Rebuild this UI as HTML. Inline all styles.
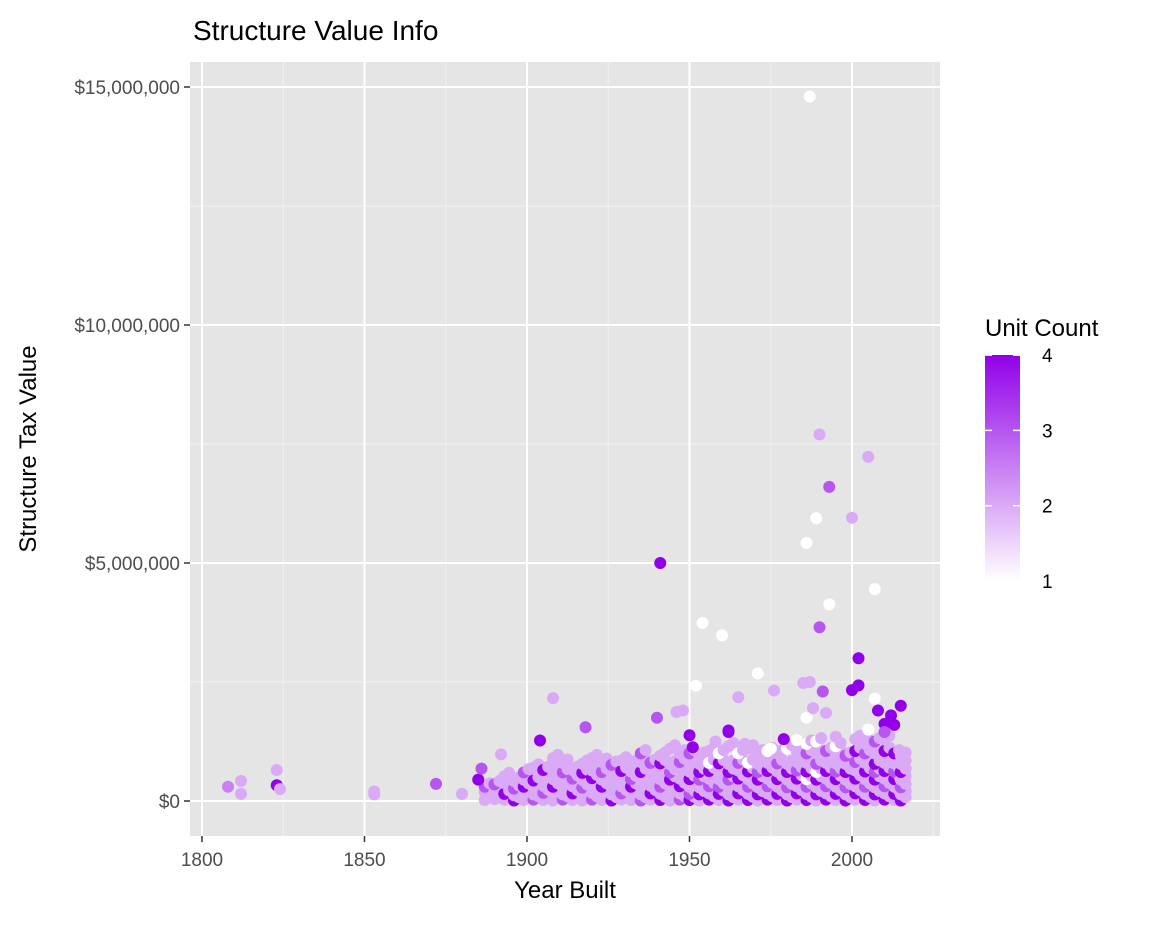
<!DOCTYPE html>
<html><head><meta charset="utf-8">
<style>
body{margin:0;background:#fff;font-family:"Liberation Sans",sans-serif;}
</style></head>
<body>
<svg id="chart" width="1152" height="921" xmlns="http://www.w3.org/2000/svg" font-family="Liberation Sans, sans-serif">
<defs><linearGradient id="cbar" x1="0" y1="1" x2="0" y2="0"><stop offset="0" stop-color="#ffffff"/><stop offset="1" stop-color="#9100e8"/></linearGradient></defs>
<text x="193" y="40" font-size="28" fill="#000">Structure Value Info</text>
<rect x="190" y="62" width="750" height="774" fill="#e5e5e5"/>
<g id="grid"></g>
<g id="points"></g>
<g id="axes"></g>
<text x="565" y="898" font-size="24" text-anchor="middle">Year Built</text>
<text transform="translate(36,449) rotate(-90)" font-size="24" text-anchor="middle">Structure Tax Value</text>
<g>
<text x="985" y="336" font-size="24">Unit Count</text>
<rect x="985" y="355" width="35" height="226" fill="url(#cbar)"/>
<g id="legendticks"></g>
</g>
</svg>
<script>
const xTicks=[1800,1850,1900,1950,2000];
const yTicks=[0,5000,10000,15000];
const yTickLabels=["$0","$5,000,000","$10,000,000","$15,000,000"];
const legendTicks=[1,2,3,4];
const outYears=[1808,1812,1812,1823,1823,1824,1853,1853,1872,1880,1885,1886,1892,1904,1908,1918,1941,1940,1946,1948,1952,1954,1960,1965,1971,1976,1985,1987,1987,1986,1989,1990,1990,1991,1993,1993,2000,2000,2002,2002,2005,2007,2007,2008,2010,2012,2013,2015,1950,1951,1962,1962,1986,1988,1992,2005,2010,1967,1975,1958,1979,1995,1983];
const outVals=[300,420,150,650,330,250,200,140,360,150,450,680,980,1270,2160,1550,5000,1750,1870,1900,2420,3740,3480,2180,2680,2320,2480,14800,2500,5420,5940,7700,3650,2300,4130,6600,5950,2330,2430,3000,7230,4450,2150,1900,1620,1800,1600,2000,1380,1130,1450,1480,1750,1950,1850,1500,1450,1200,1100,1250,1300,1350,1280];
const outUnits=[2.5,2,2,2,4,2,2,2,3,2,4,3,2,4,2,3,4,3,2,2,1,1,1,2,1,2,2,1,2,1,1,2,3,3,1,3,2,4,4,4,2,1,1,4,4,4,4,4,4,4,4,4,1,2,2,1,3,2,1,2,4,2,1];
const clusterYears=[1887,1890,1893,1896,1899,1902,1905,1908,1911,1914,1917,1920,1923,1926,1929,1932,1935,1938,1941,1944,1947,1950,1953,1956,1959,1962,1965,1968,1971,1974,1977,1980,1983,1986,1989,1992,1995,1998,2001,2004,2007,2010,2013,2015];
const clusterVals=[[20,180,300],[40,200,350],[30,150,380,520],[10,120,260,420],[20,160,300,450,600],[30,140,280,430,700],[20,170,320,480,650],[10,150,300,460,620,900],[30,140,290,430,600,800],[20,160,310,470,650],[10,130,280,440,590,780],[30,170,320,480,640,900],[20,150,300,450,610,820],[10,140,290,440,600,760],[30,160,310,470,630,850],[20,150,300,460,620,780],[10,140,290,450,610,820,1000],[30,160,320,480,640,800],[20,150,300,460,620,790,950],[10,140,290,450,600,770,1100],[30,160,310,470,640,820,1000],[20,150,300,460,620,800,1000],[10,140,290,450,610,780,950],[30,160,310,470,630,800,1050],[20,150,300,460,620,790,1000],[10,140,290,450,610,780,1150],[30,160,310,470,640,800,1000],[20,150,300,460,620,800,1100],[10,140,290,450,610,780,1000],[30,160,310,470,630,800,1050],[20,150,300,460,620,790,1000],[10,140,290,450,610,780,1100],[30,160,310,470,640,820,1050],[20,150,300,460,620,800,1000,1200],[10,140,290,450,610,780,1000,1250],[30,160,310,470,630,800,1050],[20,150,300,460,620,790,1000,1150],[10,140,290,450,610,780,950],[30,160,310,470,640,820,1050,1300],[20,150,300,460,620,800,1000,1200],[10,140,290,450,610,780,1000,1250],[30,160,310,470,630,800,1050,1300],[20,150,300,460,620,790,1000],[10,140,290,450,610,780,950]];
const clusterUnits=[[2,2,3],[2,2,3],[2,4,2,2],[4,2,3,2],[2,2,4,2,3],[3,2,2,4,2],[2,3,2,2,4],[2,2,4,2,2,2],[3,2,2,2,3,2],[2,4,2,3,2],[2,2,3,2,4,2],[3,2,2,4,2,2],[2,2,4,2,3,2],[4,2,2,2,2,3],[2,3,2,2,4,2],[2,2,4,3,2,2],[3,2,2,2,4,2,3],[2,4,2,2,2,3],[4,2,3,2,2,4,2],[2,2,2,4,3,2,2],[3,2,4,2,2,3,2],[4,3,2,4,2,2,3],[2,4,2,3,4,2,2],[4,2,3,2,4,1,2],[2,4,3,2,2,4,1],[4,2,2,3,4,2,2],[2,4,2,4,2,3,1],[4,2,3,2,4,1,2],[2,4,2,4,3,2,2],[4,2,3,2,4,2,1],[2,4,2,4,2,3,2],[4,2,3,2,4,2,1],[2,4,2,4,3,2,2],[4,2,3,1,4,2,3,1],[2,4,2,4,1,3,2,1],[4,2,3,2,4,2,3],[2,4,2,4,3,2,2,1],[4,2,3,2,4,2,3],[2,4,2,4,2,3,4,2],[4,2,3,2,4,2,3,2],[2,4,2,4,3,4,2,3],[4,2,3,2,4,2,4,2],[2,4,2,4,3,2,4],[4,2,3,2,4,2,2]];
const NS="http://www.w3.org/2000/svg";
function xs(y){return 202+(y-1800)*3.25;}
function ys(v){return 801-v*0.0476;}
function col(u){const t=(u-1)/3;return `rgb(${Math.round(255-110*t)},${Math.round(255-255*t)},${Math.round(255-23*t)})`;}
function mk(tag,a,p){const e=document.createElementNS(NS,tag);for(const k in a)e.setAttribute(k,a[k]);p.appendChild(e);return e;}
const grid=document.getElementById('grid'),axes=document.getElementById('axes'),pts=document.getElementById('points'),lt=document.getElementById('legendticks');
for(let i=0;i<xTicks.length-1;i++){const m=mk('line',{x1:xs(xTicks[i]+25),x2:xs(xTicks[i]+25),y1:62,y2:836,stroke:'#f2f2f2','stroke-width':1},grid);}
mk('line',{x1:xs(2025),x2:xs(2025),y1:62,y2:836,stroke:'#f2f2f2','stroke-width':1},grid);
for(let i=0;i<yTicks.length;i++){const m=mk('line',{x1:190,x2:940,y1:ys(yTicks[i]+2500),y2:ys(yTicks[i]+2500),stroke:'#f2f2f2','stroke-width':1},grid);}
xTicks.forEach(t=>{const g=mk('line',{x1:xs(t),x2:xs(t),y1:62,y2:836,stroke:'#fff','stroke-width':2},grid);
mk('line',{x1:xs(t),x2:xs(t),y1:836,y2:842,stroke:'#333','stroke-width':1.5},axes);
const l=mk('text',{x:xs(t),y:866,'font-size':19,fill:'#4d4d4d','text-anchor':'middle'},axes);l.textContent=t;});
yTicks.forEach((t,i)=>{const g=mk('line',{x1:190,x2:940,y1:ys(t),y2:ys(t),stroke:'#fff','stroke-width':2},grid);
mk('line',{x1:184,x2:190,y1:ys(t),y2:ys(t),stroke:'#333','stroke-width':1.5},axes);
const l=mk('text',{x:180,y:ys(t)+7,'font-size':19,fill:'#4d4d4d','text-anchor':'end'},axes);l.textContent=yTickLabels[i];});
function pt(y,v,u){const c=mk('circle',{cx:xs(y),cy:ys(v),r:6,fill:col(u)},pts);}
clusterYears.forEach((y,i)=>clusterVals[i].forEach((v,j)=>{pt(y,v,clusterUnits[i][j]);pt(y+1.5,v+70,2);}));
outYears.forEach((y,i)=>pt(y,outVals[i],outUnits[i]));
legendTicks.forEach(t=>{const yy=581-(t-1)*75.3;
mk('line',{x1:985,x2:992,y1:yy,y2:yy,stroke:'#fff','stroke-width':1.5},lt);mk('line',{x1:1013,x2:1020,y1:yy,y2:yy,stroke:'#fff','stroke-width':1.5},lt);
const l=mk('text',{x:1042,y:yy+7,'font-size':19,fill:'#000'},lt);l.textContent=t;});
</script>
</body></html>
